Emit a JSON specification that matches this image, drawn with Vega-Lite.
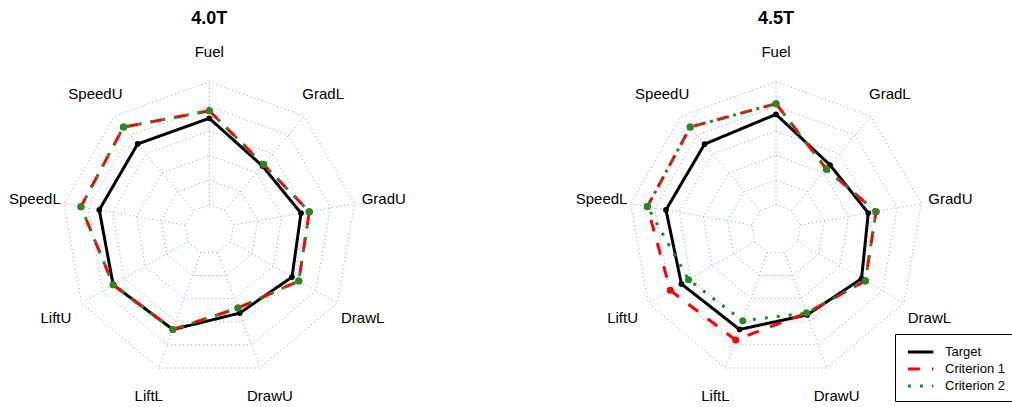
{
  "$schema": "https://vega.github.io/schema/vega-lite/v6.json",
  "padding": {"left": 0, "right": 0, "top": 10, "bottom": 0},
  "spacing": 0,
  "background": "white",
  "config": {
    "view": {"stroke": null},
    "font": "Liberation Sans",
    "title": {"fontSize": 18, "fontWeight": "bold", "font": "Liberation Sans", "color": "black", "offset": 4, "anchor": "middle", "frame": "group"}
  },
  "datasets": {
    "axes": [
      {"axis": "Fuel", "k": 0, "levels": [1, 2, 3, 4, 5, 6]},
      {"axis": "GradL", "k": 1, "levels": [1, 2, 3, 4, 5, 6]},
      {"axis": "GradU", "k": 2, "levels": [1, 2, 3, 4, 5, 6]},
      {"axis": "DrawL", "k": 3, "levels": [1, 2, 3, 4, 5, 6]},
      {"axis": "DrawU", "k": 4, "levels": [1, 2, 3, 4, 5, 6]},
      {"axis": "LiftL", "k": 5, "levels": [1, 2, 3, 4, 5, 6]},
      {"axis": "LiftU", "k": 6, "levels": [1, 2, 3, 4, 5, 6]},
      {"axis": "SpeedL", "k": 7, "levels": [1, 2, 3, 4, 5, 6]},
      {"axis": "SpeedU", "k": 8, "levels": [1, 2, 3, 4, 5, 6]}
    ],
    "scores": [
      {"panel": "4.0T", "series": "Target", "axis": "Fuel", "r": 0.752},
      {"panel": "4.0T", "series": "Target", "axis": "GradL", "r": 0.56},
      {"panel": "4.0T", "series": "Target", "axis": "GradU", "r": 0.631},
      {"panel": "4.0T", "series": "Target", "axis": "DrawL", "r": 0.647},
      {"panel": "4.0T", "series": "Target", "axis": "DrawU", "r": 0.604},
      {"panel": "4.0T", "series": "Target", "axis": "LiftL", "r": 0.722},
      {"panel": "4.0T", "series": "Target", "axis": "LiftU", "r": 0.752},
      {"panel": "4.0T", "series": "Target", "axis": "SpeedL", "r": 0.757},
      {"panel": "4.0T", "series": "Target", "axis": "SpeedU", "r": 0.755},
      {"panel": "4.0T", "series": "Criterion 1", "axis": "Fuel", "r": 0.803},
      {"panel": "4.0T", "series": "Criterion 1", "axis": "GradL", "r": 0.573},
      {"panel": "4.0T", "series": "Criterion 1", "axis": "GradU", "r": 0.688},
      {"panel": "4.0T", "series": "Criterion 1", "axis": "DrawL", "r": 0.7},
      {"panel": "4.0T", "series": "Criterion 1", "axis": "DrawU", "r": 0.568},
      {"panel": "4.0T", "series": "Criterion 1", "axis": "LiftL", "r": 0.722},
      {"panel": "4.0T", "series": "Criterion 1", "axis": "LiftU", "r": 0.752},
      {"panel": "4.0T", "series": "Criterion 1", "axis": "SpeedL", "r": 0.883},
      {"panel": "4.0T", "series": "Criterion 1", "axis": "SpeedU", "r": 0.904},
      {"panel": "4.0T", "series": "Criterion 2", "axis": "Fuel", "r": 0.803},
      {"panel": "4.0T", "series": "Criterion 2", "axis": "GradL", "r": 0.573},
      {"panel": "4.0T", "series": "Criterion 2", "axis": "GradU", "r": 0.688},
      {"panel": "4.0T", "series": "Criterion 2", "axis": "DrawL", "r": 0.7},
      {"panel": "4.0T", "series": "Criterion 2", "axis": "DrawU", "r": 0.568},
      {"panel": "4.0T", "series": "Criterion 2", "axis": "LiftL", "r": 0.722},
      {"panel": "4.0T", "series": "Criterion 2", "axis": "LiftU", "r": 0.752},
      {"panel": "4.0T", "series": "Criterion 2", "axis": "SpeedL", "r": 0.883},
      {"panel": "4.0T", "series": "Criterion 2", "axis": "SpeedU", "r": 0.904},
      {"panel": "4.5T", "series": "Target", "axis": "Fuel", "r": 0.779},
      {"panel": "4.5T", "series": "Target", "axis": "GradL", "r": 0.569},
      {"panel": "4.5T", "series": "Target", "axis": "GradU", "r": 0.635},
      {"panel": "4.5T", "series": "Target", "axis": "DrawL", "r": 0.669},
      {"panel": "4.5T", "series": "Target", "axis": "DrawU", "r": 0.617},
      {"panel": "4.5T", "series": "Target", "axis": "LiftL", "r": 0.722},
      {"panel": "4.5T", "series": "Target", "axis": "LiftU", "r": 0.74},
      {"panel": "4.5T", "series": "Target", "axis": "SpeedL", "r": 0.757},
      {"panel": "4.5T", "series": "Target", "axis": "SpeedU", "r": 0.753},
      {"panel": "4.5T", "series": "Criterion 1", "axis": "Fuel", "r": 0.851},
      {"panel": "4.5T", "series": "Criterion 1", "axis": "GradL", "r": 0.532},
      {"panel": "4.5T", "series": "Criterion 1", "axis": "GradU", "r": 0.688},
      {"panel": "4.5T", "series": "Criterion 1", "axis": "DrawL", "r": 0.699},
      {"panel": "4.5T", "series": "Criterion 1", "axis": "DrawU", "r": 0.604},
      {"panel": "4.5T", "series": "Criterion 1", "axis": "LiftL", "r": 0.798},
      {"panel": "4.5T", "series": "Criterion 1", "axis": "LiftU", "r": 0.827},
      {"panel": "4.5T", "series": "Criterion 1", "axis": "SpeedL", "r": 0.885},
      {"panel": "4.5T", "series": "Criterion 1", "axis": "SpeedU", "r": 0.904},
      {"panel": "4.5T", "series": "Criterion 2", "axis": "Fuel", "r": 0.851},
      {"panel": "4.5T", "series": "Criterion 2", "axis": "GradL", "r": 0.532},
      {"panel": "4.5T", "series": "Criterion 2", "axis": "GradU", "r": 0.688},
      {"panel": "4.5T", "series": "Criterion 2", "axis": "DrawL", "r": 0.699},
      {"panel": "4.5T", "series": "Criterion 2", "axis": "DrawU", "r": 0.604},
      {"panel": "4.5T", "series": "Criterion 2", "axis": "LiftL", "r": 0.659},
      {"panel": "4.5T", "series": "Criterion 2", "axis": "LiftU", "r": 0.684},
      {"panel": "4.5T", "series": "Criterion 2", "axis": "SpeedL", "r": 0.885},
      {"panel": "4.5T", "series": "Criterion 2", "axis": "SpeedU", "r": 0.904}
    ]
  },
  "hconcat": [
    {
      "width": 480,
      "height": 375,
      "title": {"text": "4.0T", "dx": -30.7},
      "encoding": {
        "x": {"field": "x", "type": "quantitative", "scale": {"domain": [-1.418, 1.834], "nice": false, "zero": false}, "axis": null},
        "y": {"field": "y", "type": "quantitative", "scale": {"domain": [-1.2039, 1.3367], "nice": false, "zero": false}, "axis": null}
      },
      "layer": [
        {
          "data": {"name": "axes"},
          "transform": [
            {"flatten": ["levels"], "as": ["lv"]},
            {"calculate": "datum.lv / 6 * sin(datum.k * 2 * PI / 9)", "as": "x"},
            {"calculate": "datum.lv / 6 * cos(datum.k * 2 * PI / 9)", "as": "y"}
          ],
          "mark": {"type": "line", "interpolate": "linear-closed", "stroke": "#7fa7ee", "strokeWidth": 1, "strokeDash": [1, 3]},
          "encoding": {"detail": {"field": "lv", "type": "nominal"}, "order": {"field": "k", "type": "quantitative"}}
        },
        {
          "data": {"name": "axes"},
          "transform": [
            {"calculate": "sin(datum.k * 2 * PI / 9) / 6", "as": "x"},
            {"calculate": "cos(datum.k * 2 * PI / 9) / 6", "as": "y"},
            {"calculate": "sin(datum.k * 2 * PI / 9)", "as": "x2"},
            {"calculate": "cos(datum.k * 2 * PI / 9)", "as": "y2"}
          ],
          "mark": {"type": "rule", "stroke": "#7fa7ee", "strokeWidth": 1, "strokeDash": [1, 3]},
          "encoding": {"x2": {"field": "x2"}, "y2": {"field": "y2"}}
        },
        {
          "data": {"name": "axes"},
          "transform": [
            {"calculate": "1.2 * sin(datum.k * 2 * PI / 9)", "as": "x"},
            {"calculate": "1.2 * cos(datum.k * 2 * PI / 9)", "as": "y"}
          ],
          "mark": {"type": "text", "fontSize": 15, "font": "Liberation Sans", "color": "black", "align": "center", "baseline": "middle"},
          "encoding": {"text": {"field": "axis"}}
        },
        {
          "data": {"name": "scores"},
          "transform": [
            {"filter": "datum.panel === '4.0T'"},
            {"lookup": "axis", "from": {"data": {"name": "axes"}, "key": "axis", "fields": ["k"]}},
            {"calculate": "datum.r * sin(datum.k * 2 * PI / 9)", "as": "x"},
            {"calculate": "datum.r * cos(datum.k * 2 * PI / 9)", "as": "y"}
          ],
          "mark": {"type": "line", "interpolate": "linear-closed", "strokeJoin": "round"},
          "encoding": {
            "color": {"field": "series", "type": "nominal", "scale": {"domain": ["Target", "Criterion 1", "Criterion 2"], "range": ["#000000", "#ff0000", "#228b22"]},
              "legend": {"title": null, "orient": "none", "legendX": 895, "legendY": 302, "symbolType": "M-0.6,0H2.4", "symbolSize": 289, "symbolStrokeWidth": 2, "labelFontSize": 13, "labelFont": "Liberation Sans", "labelColor": "black", "strokeColor": "black", "fillColor": "white", "padding": 8, "labelOffset": 22, "rowPadding": 0,
                "encode": {"symbols": {"update": {"size": {"value": 289}, "strokeWidth": {"value": 2}, "strokeDash": {"signal": "datum.value === 'Criterion 1' ? [7, 6] : datum.value === 'Criterion 2' ? [1.5, 6.5] : [1, 0]"}}}}}},
            "strokeDash": {"field": "series", "type": "nominal", "scale": {"domain": ["Target", "Criterion 1", "Criterion 2"], "range": [[1, 0], [12, 12], [3, 9]]}, "legend": null},
            "strokeWidth": {"field": "series", "type": "nominal", "scale": {"domain": ["Target", "Criterion 1", "Criterion 2"], "range": [3, 3, 2.5]}, "legend": null},
            "order": {"field": "k", "type": "quantitative"}
          }
        },
        {
          "data": {"name": "scores"},
          "transform": [
            {"filter": "datum.panel === '4.0T' && datum.series === 'Target'"},
            {"lookup": "axis", "from": {"data": {"name": "axes"}, "key": "axis", "fields": ["k"]}},
            {"calculate": "datum.r * sin(datum.k * 2 * PI / 9)", "as": "x"},
            {"calculate": "datum.r * cos(datum.k * 2 * PI / 9)", "as": "y"}
          ],
          "mark": {"type": "point", "filled": true, "opacity": 1, "shape": "circle", "color": "#000000", "size": 32}
        },
        {
          "data": {"name": "scores"},
          "transform": [
            {"filter": "datum.panel === '4.0T' && datum.series === 'Criterion 1'"},
            {"lookup": "axis", "from": {"data": {"name": "axes"}, "key": "axis", "fields": ["k"]}},
            {"calculate": "datum.r * sin(datum.k * 2 * PI / 9)", "as": "x"},
            {"calculate": "datum.r * cos(datum.k * 2 * PI / 9)", "as": "y"}
          ],
          "mark": {"type": "point", "filled": true, "opacity": 1, "shape": "circle", "color": "#ff0000", "size": 50}
        },
        {
          "data": {"name": "scores"},
          "transform": [
            {"filter": "datum.panel === '4.0T' && datum.series === 'Criterion 2'"},
            {"lookup": "axis", "from": {"data": {"name": "axes"}, "key": "axis", "fields": ["k"]}},
            {"calculate": "datum.r * sin(datum.k * 2 * PI / 9)", "as": "x"},
            {"calculate": "datum.r * cos(datum.k * 2 * PI / 9)", "as": "y"}
          ],
          "mark": {"type": "point", "filled": true, "opacity": 1, "shape": "circle", "color": "#228b22", "size": 50}
        }
      ]
    },
    {
      "width": 532,
      "height": 375,
      "title": {"text": "4.5T", "dx": 30},
      "encoding": {
        "x": {"field": "x", "type": "quantitative", "scale": {"domain": [-2.0054, 1.5989], "nice": false, "zero": false}, "axis": null},
        "y": {"field": "y", "type": "quantitative", "scale": {"domain": [-1.2039, 1.3367], "nice": false, "zero": false}, "axis": null}
      },
      "layer": [
        {
          "data": {"name": "axes"},
          "transform": [
            {"flatten": ["levels"], "as": ["lv"]},
            {"calculate": "datum.lv / 6 * sin(datum.k * 2 * PI / 9)", "as": "x"},
            {"calculate": "datum.lv / 6 * cos(datum.k * 2 * PI / 9)", "as": "y"}
          ],
          "mark": {"type": "line", "interpolate": "linear-closed", "stroke": "#7fa7ee", "strokeWidth": 1, "strokeDash": [1, 3]},
          "encoding": {"detail": {"field": "lv", "type": "nominal"}, "order": {"field": "k", "type": "quantitative"}}
        },
        {
          "data": {"name": "axes"},
          "transform": [
            {"calculate": "sin(datum.k * 2 * PI / 9) / 6", "as": "x"},
            {"calculate": "cos(datum.k * 2 * PI / 9) / 6", "as": "y"},
            {"calculate": "sin(datum.k * 2 * PI / 9)", "as": "x2"},
            {"calculate": "cos(datum.k * 2 * PI / 9)", "as": "y2"}
          ],
          "mark": {"type": "rule", "stroke": "#7fa7ee", "strokeWidth": 1, "strokeDash": [1, 3]},
          "encoding": {"x2": {"field": "x2"}, "y2": {"field": "y2"}}
        },
        {
          "data": {"name": "axes"},
          "transform": [
            {"calculate": "1.2 * sin(datum.k * 2 * PI / 9)", "as": "x"},
            {"calculate": "1.2 * cos(datum.k * 2 * PI / 9)", "as": "y"}
          ],
          "mark": {"type": "text", "fontSize": 15, "font": "Liberation Sans", "color": "black", "align": "center", "baseline": "middle"},
          "encoding": {"text": {"field": "axis"}}
        },
        {
          "data": {"name": "scores"},
          "transform": [
            {"filter": "datum.panel === '4.5T'"},
            {"lookup": "axis", "from": {"data": {"name": "axes"}, "key": "axis", "fields": ["k"]}},
            {"calculate": "datum.r * sin(datum.k * 2 * PI / 9)", "as": "x"},
            {"calculate": "datum.r * cos(datum.k * 2 * PI / 9)", "as": "y"}
          ],
          "mark": {"type": "line", "interpolate": "linear-closed", "strokeJoin": "round"},
          "encoding": {
            "color": {"field": "series", "type": "nominal", "scale": {"domain": ["Target", "Criterion 1", "Criterion 2"], "range": ["#000000", "#ff0000", "#228b22"]}},
            "strokeDash": {"field": "series", "type": "nominal", "scale": {"domain": ["Target", "Criterion 1", "Criterion 2"], "range": [[1, 0], [12, 12], [3, 9]]}, "legend": null},
            "strokeWidth": {"field": "series", "type": "nominal", "scale": {"domain": ["Target", "Criterion 1", "Criterion 2"], "range": [3, 3, 2.5]}, "legend": null},
            "order": {"field": "k", "type": "quantitative"}
          }
        },
        {
          "data": {"name": "scores"},
          "transform": [
            {"filter": "datum.panel === '4.5T' && datum.series === 'Target'"},
            {"lookup": "axis", "from": {"data": {"name": "axes"}, "key": "axis", "fields": ["k"]}},
            {"calculate": "datum.r * sin(datum.k * 2 * PI / 9)", "as": "x"},
            {"calculate": "datum.r * cos(datum.k * 2 * PI / 9)", "as": "y"}
          ],
          "mark": {"type": "point", "filled": true, "opacity": 1, "shape": "circle", "color": "#000000", "size": 32}
        },
        {
          "data": {"name": "scores"},
          "transform": [
            {"filter": "datum.panel === '4.5T' && datum.series === 'Criterion 1'"},
            {"lookup": "axis", "from": {"data": {"name": "axes"}, "key": "axis", "fields": ["k"]}},
            {"calculate": "datum.r * sin(datum.k * 2 * PI / 9)", "as": "x"},
            {"calculate": "datum.r * cos(datum.k * 2 * PI / 9)", "as": "y"}
          ],
          "mark": {"type": "point", "filled": true, "opacity": 1, "shape": "circle", "color": "#ff0000", "size": 50}
        },
        {
          "data": {"name": "scores"},
          "transform": [
            {"filter": "datum.panel === '4.5T' && datum.series === 'Criterion 2'"},
            {"lookup": "axis", "from": {"data": {"name": "axes"}, "key": "axis", "fields": ["k"]}},
            {"calculate": "datum.r * sin(datum.k * 2 * PI / 9)", "as": "x"},
            {"calculate": "datum.r * cos(datum.k * 2 * PI / 9)", "as": "y"}
          ],
          "mark": {"type": "point", "filled": true, "opacity": 1, "shape": "circle", "color": "#228b22", "size": 50}
        }
      ]
    }
  ]
}
